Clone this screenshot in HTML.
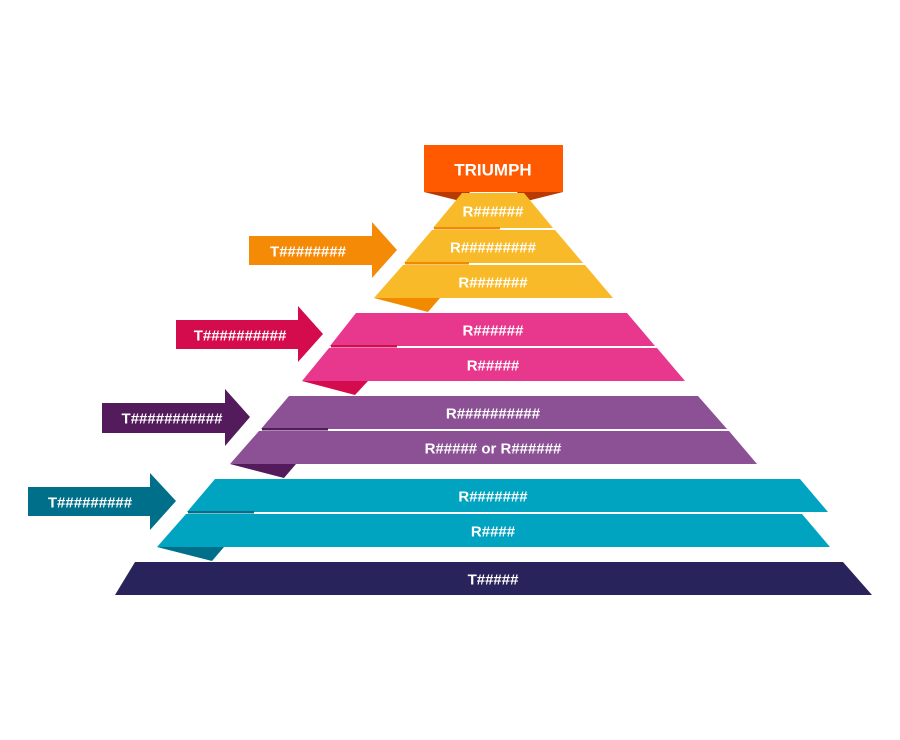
<!DOCTYPE html>
<html><head><meta charset="utf-8"><style>
html,body{margin:0;padding:0;background:#fff;}
svg{display:block;}
text{font-family:"Liberation Sans",sans-serif;font-weight:bold;fill:#fff;font-size:15px;text-anchor:middle;dominant-baseline:central;}
</style></head><body>
<svg width="900" height="740" viewBox="0 0 900 740" xmlns="http://www.w3.org/2000/svg">
<polygon points="424,192 470,192 464,202" fill="#B83A00"/>
<polygon points="563,192 517,192 523,202" fill="#B83A00"/>
<rect x="424" y="145" width="139" height="47" fill="#FF5A00"/>
<text x="493" y="170" style="font-size:17px">TRIUMPH</text>

<polygon points="374,298 440,298 428,312" fill="#F28A00"/>
<polygon points="462,193 524,193 553,228 433,228" fill="#F8BA28"/>
<polygon points="432,230 555,230 583,263 404,263" fill="#F8BA28"/>
<polygon points="403,265 585,265 613,298 374,298" fill="#F8BA28"/>
<rect x="434" y="227" width="66" height="2.5" fill="#F28A00"/>
<rect x="405" y="262" width="64" height="2.5" fill="#F28A00"/>
<text x="493" y="212">R######</text>
<text x="493" y="248">R#########</text>
<text x="493" y="283">R#######</text>
<polygon points="249,236 372,236 372,222 397,250 372,278 372,265 249,265" fill="#F58A07"/>
<text x="308" y="252">T########</text>

<polygon points="302,381 368,381 355,395" fill="#D40C4E"/>
<polygon points="356,313 627,313 655,346 330,346" fill="#E8388E"/>
<polygon points="329,348 657,348 685,381 302,381" fill="#E8388E"/>
<rect x="331" y="345" width="66" height="2.5" fill="#D40C4E"/>
<text x="493" y="331">R######</text>
<text x="493" y="366">R#####</text>
<polygon points="176,320 298,320 298,306 323,334 298,362 298,349 176,349" fill="#D40C4E"/>
<text x="240" y="336">T##########</text>

<polygon points="230,464 296,464 284,478" fill="#531A5C"/>
<polygon points="289,396 698,396 727,429 261,429" fill="#8C5195"/>
<polygon points="259,431 729,431 757,464 230,464" fill="#8C5195"/>
<rect x="262" y="428" width="66" height="2.5" fill="#531A5C"/>
<text x="493" y="414">R##########</text>
<text x="493" y="449">R##### or R######</text>
<polygon points="102,403 225,403 225,389 250,417 225,446 225,433 102,433" fill="#531A5C"/>
<text x="172" y="419">T###########</text>

<polygon points="157,547 224,547 212,561" fill="#006F8A"/>
<polygon points="215,479 800,479 828,512 187,512" fill="#00A4C0"/>
<polygon points="186,514 802,514 830,547 157,547" fill="#00A4C0"/>
<rect x="188" y="511" width="66" height="2.5" fill="#006F8A"/>
<text x="493" y="497">R#######</text>
<text x="493" y="532">R####</text>
<polygon points="28,487 150,487 150,473 176,501 150,530 150,516 28,516" fill="#006F8A"/>
<text x="90" y="503">T#########</text>

<polygon points="135,562 843,562 872,595 115,595" fill="#29235C"/>
<text x="493" y="580">T#####</text>
</svg>
</body></html>
